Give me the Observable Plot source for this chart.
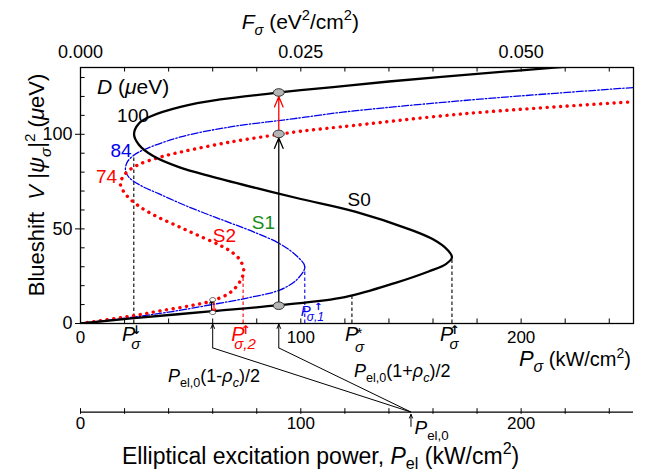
<!DOCTYPE html>
<html>
<head>
<meta charset="utf-8">
<script src="https://cdn.jsdelivr.net/npm/d3@7"></script>
<script src="https://cdn.jsdelivr.net/npm/@observablehq/plot@0.6"></script>
<style>
  body { margin: 0; background: #fff; }
  #chart svg { font-family: "Liberation Sans", Arial, sans-serif; }
</style>
</head>
<body>
<div id="chart"></div>
<script>
// ---------- data ----------
// S0, D = 100 µeV (black solid): P_sigma (kW/cm2) and V|psi|^2 (µeV)
const s0P = [0, 24.2, 60, 90, 120, 143, 158, 166, 168.6, 166.5, 160, 150, 125, 100, 80, 60, 45, 33, 26.5, 24.3, 26.5, 31.7, 45.4, 63.5, 90.4, 100, 118, 140, 180, 215, 252];
const s0V = [0, 2.8, 6.5, 9.7, 14, 21.5, 27.5, 31.5, 35, 39, 44.5, 49.5, 59, 65.8, 71.5, 77.5, 82.5, 88.5, 94.5, 100, 105.7, 109.4, 114.5, 118.4, 122.1, 123.3, 125.3, 127.9, 131.9, 135.2, 138.2];
// S1, D = 84 µeV (blue dash-dot)
const s1P = [0, 24, 40, 59.7, 77.1, 90.7, 98.3, 101.8, 98.3, 90.7, 79, 69, 61, 47.5, 35.5, 27.2, 21.9, 20.4, 21.2, 24.2, 28.7, 45.4, 68, 91, 101, 119, 175.4, 252];
const s1V = [0, 3.4, 6, 10, 13.8, 17.8, 23.3, 30, 35.5, 42, 48.2, 52.7, 56.2, 62.4, 68.6, 73, 77.4, 80.9, 85.3, 88.9, 91.8, 98.6, 103.9, 107.4, 108.9, 111.7, 118, 124.8];
// S2, D = 74 µeV (red dotted)
const s2P = [0, 24, 36.3, 49.9, 59.7, 68, 72.6, 74.1, 72.6, 68.8, 63, 52.5, 43.5, 34.5, 26.3, 20.5, 18.1, 20.4, 25.7, 35.5, 45.4, 68, 90.4, 99.8, 117.9, 175.4, 249.4];
const s2V = [0, 4.1, 6.7, 9.4, 12, 16.4, 22.6, 27.9, 33.2, 37.6, 41.5, 47, 51.8, 56.6, 62.2, 68.3, 73.9, 79.2, 83.6, 87.7, 90.6, 95.9, 100, 101.6, 103.9, 111, 117.1];

// threshold markers (P_sigma) and the height their dashed lines reach (V)
const thrBlackP = [24.2, 123.2, 168.6];
const thrBlackV = [88.9, 15.6, 35];
const thrBlueP = [101.8], thrBlueV = [30];
const thrRedP = [73.8], thrRedV = [24];

// jump points
const jumpP = 90;
const jumpV = [9.4, 100.2, 122.1];
const smallP = 60;
const smallV = [5.8, 12.6];

// elliptical excitation
const pEl0 = 150;
const pSplit = [60, 90];

// axes
const pTicks = [20, 40, 60, 80, 100, 120, 140, 160, 180, 200, 220, 240];
const pLabels = [0, 100, 200];
const vTicks = [10, 20, 30, 40, 50, 60, 70, 80, 90, 100, 110, 120, 130];
const vLabels = [0, 50, 100];
const fLabels = [0, 0.025, 0.05];
const fPerP = 0.025 / 100;
const elTicks = [0, 20, 40, 60, 80, 100, 120, 140, 160, 180, 200, 220, 240];
const elLabels = [0, 100, 200];

// curve labels
const curveLabText = ["100", "84", "74", "S0", "S1", "S2"];
const curveLabP = [23.8, 18.4, 11.8, 126.5, 83, 65.3];
const curveLabV = [109.6, 91.4, 77.7, 65.3, 53.4, 46.2];
const curveLabColor = ["black", "#0000ee", "#ff0000", "black", "#1a8c1a", "#ff0000"];

// ---------- build ----------
const FONT = '"Liberation Sans", Arial, sans-serif';
const ARROWFONT = '"DejaVu Sans", sans-serif';
const BLUE = "#0000ee", RED = "#ff0000";
const yBot = -46.8;   // level of the elliptical power axis (below the frame)
const yKink = -12.9;  // kink of the connector lines

const rows = (P, V) => P.map((p, i) => ({p, v: V[i]}));
const s0 = rows(s0P, s0V), s1 = rows(s1P, s1V), s2 = rows(s2P, s2V);

const ellipse = {
  draw(ctx, size) {
    const r = Math.sqrt(size / Math.PI), rx = r * 1.3, ry = r * 0.9, k = 0.5523;
    ctx.moveTo(rx, 0);
    ctx.bezierCurveTo(rx, k * ry, k * rx, ry, 0, ry);
    ctx.bezierCurveTo(-k * rx, ry, -rx, k * ry, -rx, 0);
    ctx.bezierCurveTo(-rx, -k * ry, -k * rx, -ry, 0, -ry);
    ctx.bezierCurveTo(k * rx, -ry, rx, -k * ry, rx, 0);
    ctx.closePath();
  }
};

const plot = Plot.plot({
  width: 652, height: 474,
  marginLeft: 80, marginRight: 19, marginTop: 67, marginBottom: 151,
  x: {domain: [0, 251]},
  y: {domain: [0, 135.3]},
  style: {fontFamily: FONT, fontSize: "17px", color: "black", background: "white", overflow: "visible"},
  marks: [
    // dashed threshold lines
    Plot.ruleX(rows(thrBlackP, thrBlackV), {x: "p", y1: 0, y2: "v", stroke: "black", strokeWidth: 1.1, strokeDasharray: "3.5,2.5"}),
    Plot.ruleX(rows(thrBlueP, thrBlueV), {x: "p", y1: 0, y2: "v", stroke: BLUE, strokeWidth: 1.1, strokeDasharray: "3.5,2.5"}),
    Plot.ruleX(rows(thrRedP, thrRedV), {x: "p", y1: 0, y2: "v", stroke: RED, strokeWidth: 1.1, strokeDasharray: "3.5,2.5"}),
    // curves
    Plot.line(s1, {x: "p", y: "v", curve: "catmull-rom", stroke: BLUE, strokeWidth: 1.3, strokeDasharray: "7,2,1.5,2", clip: true}),
    Plot.line(s2, {x: "p", y: "v", curve: "catmull-rom", stroke: RED, strokeWidth: 3.4, strokeDasharray: "0.1,6.6", strokeLinecap: "round", clip: true}),
    Plot.line(s0, {x: "p", y: "v", curve: "catmull-rom", stroke: "black", strokeWidth: 2.3, clip: true}),
    // jump arrows
    Plot.arrow([{x: jumpP, a: jumpV[0], b: jumpV[1]}], {x1: "x", y1: "a", x2: "x", y2: "b", stroke: "black", strokeWidth: 1.3, headLength: 13, headAngle: 45, insetStart: 3, insetEnd: 4}),
    Plot.arrow([{x: jumpP, a: jumpV[1], b: jumpV[2]}], {x1: "x", y1: "a", x2: "x", y2: "b", stroke: RED, strokeWidth: 1.3, headLength: 13, headAngle: 45, insetStart: 4, insetEnd: 4}),
    Plot.arrow([{x: smallP - 0.5, a: smallV[0], b: smallV[1]}], {x1: "x", y1: "a", x2: "x", y2: "b", stroke: "black", strokeWidth: 1.2, headLength: 5, headAngle: 50}),
    Plot.arrow([{x: smallP + 0.6, a: smallV[1], b: smallV[0]}], {x1: "x", y1: "a", x2: "x", y2: "b", stroke: RED, strokeWidth: 1.2, headLength: 5, headAngle: 50}),
    Plot.dot(jumpV.map(v => ({p: jumpP, v})), {x: "p", y: "v", r: 4.2, symbol: ellipse, fill: "#b5b5b5", stroke: "#333", strokeWidth: 1}),
    Plot.dot(smallV.map(v => ({p: smallP, v})), {x: "p", y: "v", r: 2.3, symbol: ellipse, fill: "white", stroke: "#333", strokeWidth: 0.8}),
    // curve labels
    Plot.text(curveLabText.map((t, i) => ({t, p: curveLabP[i], v: curveLabV[i], c: curveLabColor[i]})),
      {x: "p", y: "v", text: "t", fill: d => d.c, fontSize: 19}),
    // frame and inner ticks
    Plot.frame({stroke: "black", strokeWidth: 1.3}),
    Plot.ruleX(pTicks, {x: d => d, y1: 0, y2: 2.4, stroke: "black", strokeWidth: 1}),
    Plot.ruleX(pTicks, {x: d => d, y1: 135.3, y2: 132.9, stroke: "black", strokeWidth: 1}),
    Plot.ruleY(vTicks, {y: d => d, x1: 0, x2: 2.1, stroke: "black", strokeWidth: 1}),
    Plot.axisY(vLabels, {anchor: "left", tickSize: 5, tickPadding: 3, fontSize: 18, label: null}),
    Plot.axisX(pLabels, {anchor: "bottom", tickSize: 0, tickPadding: 7, fontSize: 17, label: null}),
    Plot.axisX(fLabels.map(f => f / fPerP), {anchor: "top", tickSize: 0, tickPadding: 10, fontSize: 18, label: null,
      tickFormat: p => (p * fPerP).toFixed(3)}),
    // elliptical excitation power axis
    Plot.ruleY([yBot], {stroke: "black", strokeWidth: 1.2}),
    Plot.ruleX(elTicks, {x: d => d, y1: yBot - 1.2, y2: yBot + 1.8, stroke: "black", strokeWidth: 1}),
    Plot.text(elLabels, {x: d => d, y: yBot, text: d => String(d), dy: 5, lineAnchor: "top", fontSize: 17}),
    Plot.link(pSplit.map(p => ({p})), {x1: "p", y1: yKink, x2: pEl0, y2: yBot, stroke: "black", strokeWidth: 1}),
    Plot.arrow(pSplit.map(p => ({p})), {x1: "p", y1: yKink, x2: "p", y2: -0.3, stroke: "black", strokeWidth: 1, headLength: 7, headAngle: 45}),
    Plot.arrow([{p: pEl0}], {x1: "p", y1: yBot - 7.6, x2: "p", y2: yBot - 1.2, stroke: "black", strokeWidth: 1, headLength: 6, headAngle: 45})
  ]
});

document.getElementById("chart").appendChild(plot);

// ---------- rich text (sub/superscripts) placed through the plot's scales ----------
const sx = plot.scale("x"), sy = plot.scale("y");
const svg = d3.select(plot);
const g = svg.append("g").attr("font-family", FONT);

function rich(x, y, parts, {size = 17, fill = "black", anchor = "start", rotate = 0} = {}) {
  const t = g.append("text").attr("x", x).attr("y", y).attr("font-size", size)
    .attr("fill", fill).attr("text-anchor", anchor);
  if (rotate) t.attr("transform", `rotate(${rotate},${x},${y})`);
  let cur = 0;
  for (const p of parts) {
    const s = (p.sub || p.sup) ? (p.size || size * 0.7) : (p.size || size);
    const off = p.sub ? size * (p.subShift || 0.3) : p.sup ? -size * 0.42 : 0;
    const ts = t.append("tspan").text(p.t).attr("dy", off - cur).attr("font-size", s);
    cur = off;
    if (p.it) ts.attr("font-style", "italic");
  }
  return t;
}

// top title F_sigma
rich(sx.apply(100), 29, [{t: "F", it: 1}, {t: "σ", it: 1, sub: 1}, {t: " (eV"}, {t: "2", sup: 1}, {t: "/cm"}, {t: "2", sup: 1}, {t: ")"}], {size: 21, anchor: "middle"});

// y title
rich(44, 185, [{t: "Blueshift  "}, {t: "V", it: 1}, {t: " |"}, {t: "ψ", it: 1}, {t: "σ", it: 1, sub: 1}, {t: "|"}, {t: "2", sup: 1}, {t: " ("}, {t: "μ", it: 1}, {t: "eV)"}], {size: 22, anchor: "middle", rotate: -90});

// D (µeV)
rich(97, 94, [{t: "D", it: 1}, {t: " ("}, {t: "μ", it: 1}, {t: "eV)"}], {size: 21});

// P_sigma axis title
rich(631, 366, [{t: "P", it: 1, size: 22}, {t: "σ", it: 1, sub: 1, size: 16}, {t: " (kW/cm"}, {t: "2", sup: 1}, {t: ")"}], {size: 20, anchor: "end"});

// threshold labels under the axis
function thr(p, mark, sub, color, starStyle) {
  const x0 = sx.apply(p);
  const pg = g.append("g").attr("fill", color);
  if (starStyle) {
    pg.append("text").attr("x", x0 + 7).attr("y", 341).attr("font-size", 20).attr("font-style", "italic").attr("text-anchor", "end").text("P");
    pg.append("text").attr("x", x0 + 8).attr("y", 338).attr("font-size", 15).text("*");
    pg.append("text").attr("x", x0 + 8).attr("y", 352).attr("font-size", 15).attr("font-style", "italic").text(sub);
  } else {
    pg.append("text").attr("x", x0 + 2).attr("y", 341).attr("font-size", 20).attr("font-style", "italic").attr("text-anchor", "end").text("P");
    pg.append("text").attr("x", x0 + 3).attr("y", 334).attr("font-size", 12).attr("font-family", ARROWFONT).attr("font-weight", "bold").attr("text-anchor", "middle").text(mark);
    pg.append("text").attr("x", x0 + 2.5).attr("y", 349).attr("font-size", 15).attr("font-style", "italic").text(sub);
  }
}
thr(thrBlackP[0], "↓", "σ", "black");
thr(thrRedP[0], "↑", "σ,2", RED);
thr(thrBlackP[1], "", "σ", "black", true);
thr(thrBlackP[2], "↑", "σ", "black");

// P_sigma,1 (inside, blue)
{
  const x0 = sx.apply(thrBlueP[0]);
  const bg = g.append("g").attr("fill", BLUE);
  bg.append("text").attr("x", x0 + 1.5).attr("y", 316).attr("font-size", 15).attr("font-style", "italic").text("P");
  bg.append("text").attr("x", x0 + 14).attr("y", 310).attr("font-size", 10).attr("font-family", ARROWFONT).attr("font-weight", "bold").attr("text-anchor", "middle").text("↑");
  bg.append("text").attr("x", x0 + 11).attr("y", 321).attr("font-size", 12).attr("font-style", "italic").text("σ,1");
}

// connector formulas
rich(168, 382, [{t: "P", it: 1}, {t: "el,0", sub: 1}, {t: "(1-"}, {t: "ρ", it: 1}, {t: "c", it: 1, sub: 1}, {t: ")/2"}], {size: 18});
rich(354, 377, [{t: "P", it: 1}, {t: "el,0", sub: 1}, {t: "(1+"}, {t: "ρ", it: 1}, {t: "c", it: 1, sub: 1}, {t: ")/2"}], {size: 18});

// P_el,0 label
rich(sx.apply(pEl0) + 4, 434, [{t: "P", it: 1}, {t: "el,0", sub: 1}], {size: 19});

// bottom title
rich(122, 464, [{t: "Elliptical excitation power, "}, {t: "P", it: 1}, {t: "el", sub: 1, subShift: 0.22}, {t: " (kW/cm"}, {t: "2", sup: 1}, {t: ")"}], {size: 23, anchor: "start"});
</script>
</body>
</html>
